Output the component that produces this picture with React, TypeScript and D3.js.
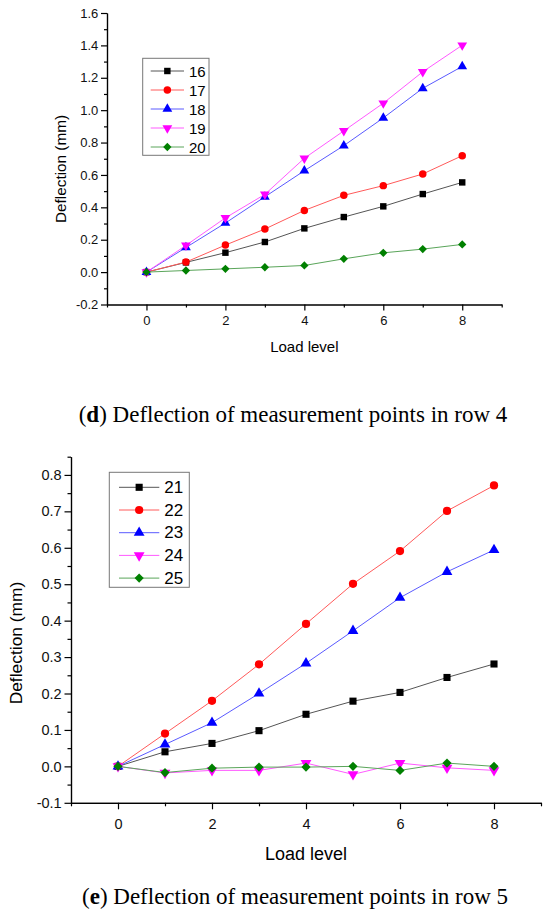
import { useEffect, useRef } from 'react';
import * as d3 from 'd3';

// load levels on the x axis
const loadLevels = [0, 1, 2, 3, 4, 5, 6, 7, 8];

// (d) row 4 measurement points
const row4Names = ['16', '17', '18', '19', '20'];
const p16 = [0, 0.06, 0.12, 0.186, 0.27, 0.34, 0.406, 0.482, 0.554];
const p17 = [0, 0.062, 0.167, 0.266, 0.381, 0.474, 0.534, 0.606, 0.719];
const p18 = [0, 0.152, 0.303, 0.465, 0.626, 0.781, 0.952, 1.135, 1.27];
const p19 = [0, 0.165, 0.335, 0.48, 0.703, 0.872, 1.043, 1.237, 1.401];
const p20 = [0, 0.01, 0.02, 0.03, 0.041, 0.082, 0.119, 0.142, 0.171];

// (e) row 5 measurement points
const row5Names = ['21', '22', '23', '24', '25'];
const p21 = [0, 0.04, 0.063, 0.098, 0.143, 0.179, 0.203, 0.244, 0.281];
const p22 = [0, 0.09, 0.18, 0.28, 0.391, 0.501, 0.591, 0.701, 0.771];
const p23 = [0, 0.06, 0.12, 0.2, 0.283, 0.372, 0.463, 0.534, 0.594];
const p24 = [0, -0.018, -0.011, -0.011, 0.009, -0.022, 0.009, -0.004, -0.011];
const p25 = [0, -0.017, -0.005, -0.002, -0.002, 0, -0.011, 0.009, 0];

// ticks
const xDomain = [-1, 9];
const xTicks = [0, 2, 4, 6, 8];
const xMinorTicks = [-1, 1, 3, 5, 7, 9];
const row4YTicks = [-0.2, 0, 0.2, 0.4, 0.6, 0.8, 1.0, 1.2, 1.4, 1.6];
const row4YMinor = [-0.1, 0.1, 0.3, 0.5, 0.7, 0.9, 1.1, 1.3, 1.5];
const row5YTicks = [-0.1, 0, 0.1, 0.2, 0.3, 0.4, 0.5, 0.6, 0.7, 0.8];
const row5YMinor = [-0.05, 0.05, 0.15, 0.25, 0.35, 0.45, 0.55, 0.65, 0.75, 0.85];

const markerColors = ['#000000', '#ff0000', '#0000ff', '#ff00ff', '#008000'];
const lineColors = ['#555555', '#ff5a5a', '#5a5aff', '#ff5aff', '#5aa55a'];
const markerTypes = ['square', 'circle', 'triangle', 'triangleDown', 'diamond'];

const SANS = '"Liberation Sans", Arial, sans-serif';
const SERIF = '"Liberation Serif", "Times New Roman", serif';

function symbolPath(type: string, size: number) {
  const s = d3.symbol();
  if (type === 'square') return { d: s.type(d3.symbolSquare).size(size)(), rot: 0 };
  if (type === 'circle') return { d: s.type(d3.symbolCircle).size(size)(), rot: 0 };
  if (type === 'triangle') return { d: s.type(d3.symbolTriangle).size(size)(), rot: 0 };
  if (type === 'triangleDown') return { d: s.type(d3.symbolTriangle).size(size)(), rot: 180 };
  return { d: s.type(d3.symbolSquare).size(size)(), rot: 45 };
}

const markerSizes: Record<string, number> = {
  square: 36, circle: 38, triangle: 36, triangleDown: 36, diamond: 30,
};

function drawPanel(svg: any, cfg: any) {
  const x = d3.scaleLinear().domain(xDomain).range([cfg.left, cfg.right]);
  const y = d3.scaleLinear().domain(cfg.yDomain).range([cfg.bottom, cfg.top]);
  const fmt = (d: any) => (+d).toFixed(1);

  // series
  cfg.series.forEach((vals: number[], i: number) => {
    const line = d3.line<number>()
      .x((_, j) => x(loadLevels[j]))
      .y(d => y(d));
    svg.append('path')
      .datum(vals)
      .attr('fill', 'none')
      .attr('stroke', lineColors[i])
      .attr('stroke-width', 1)
      .attr('d', line);
    const m = symbolPath(markerTypes[i], markerSizes[markerTypes[i]] * cfg.markerScale);
    svg.append('g').selectAll('path')
      .data(vals)
      .join('path')
      .attr('d', m.d)
      .attr('fill', markerColors[i])
      .attr('transform', (d: number, j: number) => `translate(${x(loadLevels[j])},${y(d)}) rotate(${m.rot})`);
  });

  // axes
  const styleAxis = (g: any) => {
    g.attr('font-family', SANS).attr('font-size', cfg.tickFont);
    g.selectAll('path,line').attr('stroke', '#000').attr('stroke-width', 1.2);
    g.selectAll('text').attr('fill', '#111');
  };

  svg.append('g')
    .attr('transform', `translate(0,${cfg.bottom})`)
    .call(d3.axisBottom(x).tickValues(xMinorTicks).tickSize(cfg.minorLen).tickSizeOuter(0).tickFormat(() => ''))
    .call(styleAxis);
  svg.append('g')
    .attr('transform', `translate(0,${cfg.bottom})`)
    .call(d3.axisBottom(x).tickValues(xTicks).tickSize(cfg.majorLen).tickSizeOuter(0).tickPadding(cfg.xPad).tickFormat(d3.format('d')))
    .call(styleAxis);

  svg.append('g')
    .attr('transform', `translate(${cfg.left},0)`)
    .call(d3.axisLeft(y).tickValues(cfg.yMinor).tickSize(cfg.minorLen).tickSizeOuter(0).tickFormat(() => ''))
    .call(styleAxis);
  svg.append('g')
    .attr('transform', `translate(${cfg.left},0)`)
    .call(d3.axisLeft(y).tickValues(cfg.yTicks).tickSize(cfg.majorLen).tickSizeOuter(0).tickPadding(cfg.yPad).tickFormat(fmt))
    .call(styleAxis);

  // axis titles
  svg.append('text')
    .attr('x', (cfg.left + cfg.right) / 2)
    .attr('y', cfg.xTitleY)
    .attr('text-anchor', 'middle')
    .attr('dominant-baseline', 'central')
    .attr('font-family', SANS)
    .attr('font-size', cfg.titleFont)
    .text('Load level');
  svg.append('text')
    .attr('transform', `translate(${cfg.yTitleX},${cfg.yTitleY}) rotate(-90)`)
    .attr('text-anchor', 'middle')
    .attr('dominant-baseline', 'central')
    .attr('font-family', SANS)
    .attr('font-size', cfg.yTitleFont)
    .text('Deflection (mm)');

  // legend
  const lg = cfg.legend;
  svg.append('rect')
    .attr('x', lg.x).attr('y', lg.y)
    .attr('width', lg.w).attr('height', lg.h)
    .attr('fill', '#fff')
    .attr('stroke', '#777')
    .attr('stroke-width', 1);
  cfg.names.forEach((name: string, i: number) => {
    const cy = lg.y + lg.first + i * lg.rowH;
    svg.append('line')
      .attr('x1', lg.lineX0).attr('x2', lg.lineX1)
      .attr('y1', cy).attr('y2', cy)
      .attr('stroke', lineColors[i]).attr('stroke-width', 1);
    const m = symbolPath(markerTypes[i], markerSizes[markerTypes[i]] * cfg.markerScale);
    svg.append('path')
      .attr('d', m.d)
      .attr('fill', markerColors[i])
      .attr('transform', `translate(${(lg.lineX0 + lg.lineX1) / 2},${cy}) rotate(${m.rot})`);
    svg.append('text')
      .attr('x', lg.textX).attr('y', cy)
      .attr('dominant-baseline', 'central')
      .attr('font-family', SANS)
      .attr('font-size', lg.font)
      .text(name);
  });

  // caption
  const cap = svg.append('text')
    .attr('x', cfg.captionX)
    .attr('y', cfg.captionY)
    .attr('text-anchor', 'middle')
    .attr('dominant-baseline', 'central')
    .attr('font-family', SERIF)
    .attr('font-size', cfg.captionFont);
  cap.append('tspan').text('(');
  cap.append('tspan').attr('font-weight', 'bold').text(cfg.captionLetter);
  cap.append('tspan').text(') ' + cfg.captionText);
}

const panels = [
  {
    series: [p16, p17, p18, p19, p20], names: row4Names,
    yDomain: [-0.2, 1.6], yTicks: row4YTicks, yMinor: row4YMinor,
    left: 107, right: 501.7, top: 13, bottom: 304.5,
    tickFont: 13, majorLen: 6, minorLen: 3, xPad: 5.5, yPad: 2.7,
    titleFont: 15, xTitleY: 346, yTitleFont: 15.3, yTitleX: 60.5, yTitleY: 169,
    markerScale: 1.15,
    legend: { x: 142.7, y: 58.3, w: 66.3, h: 97, first: 12.7, rowH: 19, lineX0: 150.7, lineX1: 184, textX: 189, font: 15 },
    captionX: 293, captionY: 414, captionFont: 23, captionLetter: 'd',
    captionText: 'Deflection of measurement points in row 4',
  },
  {
    series: [p21, p22, p23, p24, p25], names: row5Names,
    yDomain: [-0.1, 0.85], yTicks: row5YTicks, yMinor: row5YMinor,
    left: 71, right: 541, top: 456.7, bottom: 802.8,
    tickFont: 14.5, majorLen: 6.5, minorLen: 3.5, xPad: 9, yPad: 2.8,
    titleFont: 18, xTitleY: 853.5, yTitleFont: 17.4, yTitleX: 16, yTitleY: 643,
    markerScale: 1.4,
    legend: { x: 109.3, y: 472.3, w: 80, h: 115, first: 15, rowH: 22.7, lineX0: 119, lineX1: 159.3, textX: 164.3, font: 17 },
    captionX: 295, captionY: 895.6, captionFont: 23, captionLetter: 'e',
    captionText: 'Deflection of measurement points in row 5',
  },
];

export default function App() {
  const svgRef = useRef<SVGSVGElement>(null);

  useEffect(() => {
    if (!svgRef.current) return;
    const svg = d3.select(svgRef.current);
    svg.selectAll('*').remove();
    svg.append('rect').attr('width', 550).attr('height', 919).attr('fill', '#fff');
    panels.forEach(cfg => drawPanel(svg, cfg));
  }, []);

  return (
    <svg
      ref={svgRef}
      width={550}
      height={919}
      style={{ position: 'absolute', left: 0, top: 0, display: 'block' }}
    />
  );
}
